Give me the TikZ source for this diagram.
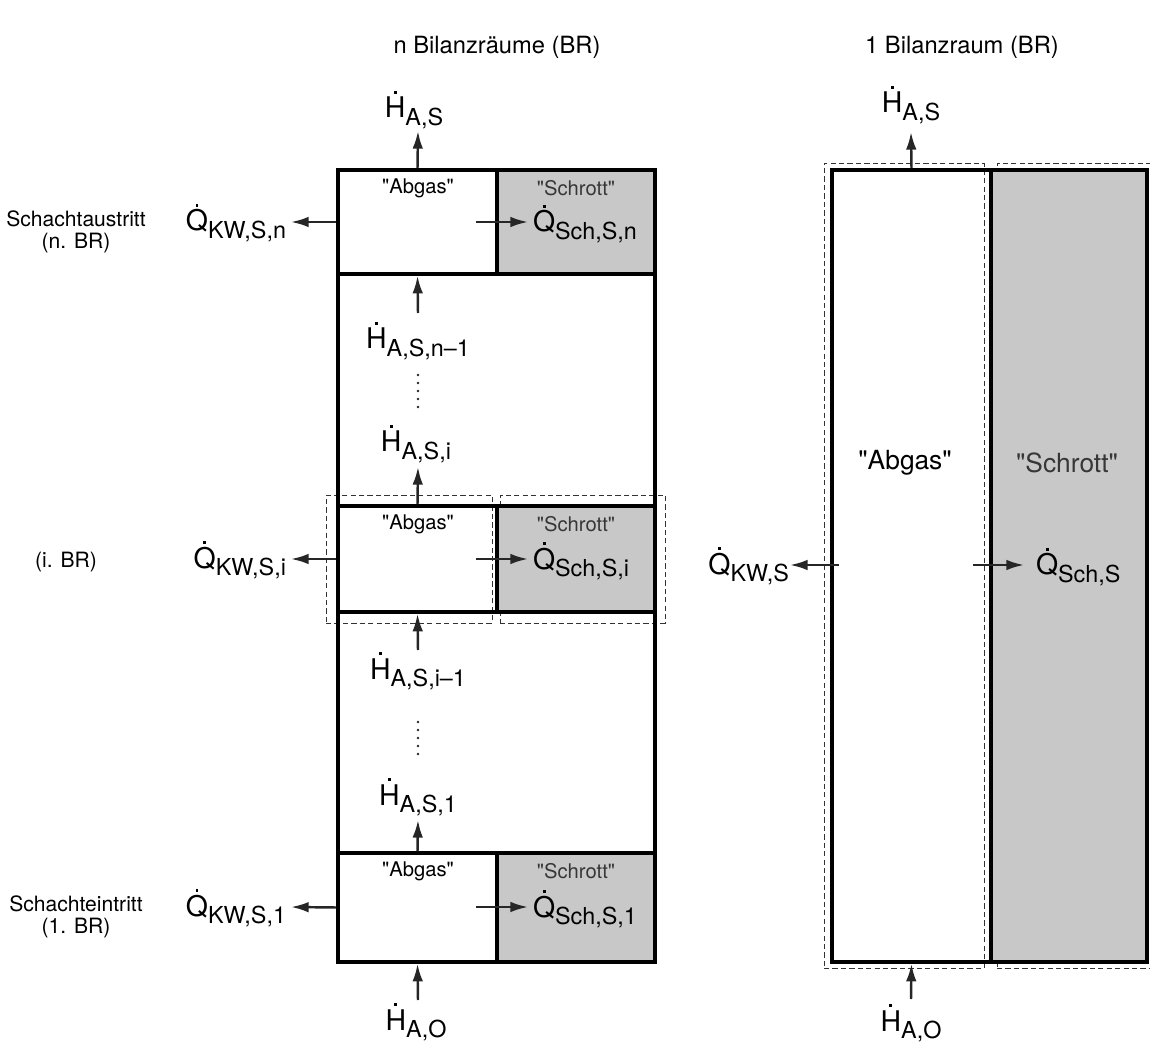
\documentclass[tikz,border=0pt]{standalone}
\usepackage{fontspec}
\setmainfont{TeX Gyre Heros}
\usetikzlibrary{arrows.meta,fit}
\definecolor{schgray}{RGB}{200,200,200}
\definecolor{schtext}{RGB}{55,55,55}
\newcommand\dotacc[1]{\ooalign{#1\cr\hidewidth\smash{\raisebox{0.86em}{\rule{1.7pt}{1.7pt}}}\hidewidth\cr}}
\newcommand\flowlab[2]{{\fontsize{16.2}{18}\selectfont\dotacc{#1}}\raisebox{-4.5pt}{\fontsize{13.3}{15}\selectfont #2}}
\newcommand\qq[1]{\textquotedbl#1\textquotedbl}
\begin{document}
\begin{tikzpicture}[x=0.02cm,y=-0.02cm,
  thk/.style={line width=2pt},
  flowarrow/.style={line width=1.4pt, draw=black!85, -{Latex[length=10pt,width=6pt]}},
  dbox/.style={draw=black!80, line width=0.5pt, dash pattern=on 3pt off 1.8pt},
  txt/.style={inner sep=0pt, outer sep=0pt},
  titletxt/.style={txt, font=\fontsize{13.5}{16}\selectfont},
  sidetxt/.style={txt, font=\fontsize{12}{14}\selectfont},
  boxtxt/.style={txt, font=\fontsize{11.5}{13}\selectfont},
  bigtxt/.style={txt, font=\fontsize{15}{17}\selectfont},
  abgbox/.style={fit={#1}, inner sep=0pt, draw, thk},
  schbox/.style={fit={#1}, inner sep=0pt, fill=schgray, draw, thk},
  hdots/.style={fill=black!85, radius=1.3}
]
\useasboundingbox (0,0) rectangle (1150,1047);

% titles
\node[titletxt, anchor=base] (t1) at (497,54) {n Bilanzräume (BR)};
\node[titletxt, anchor=base] (t2) at (962,54) {1 Bilanzraum (BR)};

% ---------- left column ----------
% dashed boxes of i-th BR
\node[dbox, fit={(326,495)(492,623)}, inner sep=0pt] (dai) {};
\node[dbox, fit={(500,495)(665,623)}, inner sep=0pt] (dsi) {};

% BR n
\node[schbox={(497,170)(655,274)}] (schn) {};
\node[abgbox={(338,170)(497,274)}] (abgn) {};
% BR i
\node[schbox={(497,506)(655,612)}] (schi) {};
\node[abgbox={(338,506)(497,612)}] (abgi) {};
% BR 1
\node[schbox={(497,853)(655,962)}] (sch1) {};
\node[abgbox={(338,853)(497,962)}] (abg1) {};
% outer
\node[fit={(338,170)(655,962)}, inner sep=0pt, draw, thk] (outer) {};

% box texts
\foreach \t/\k in {170/n,506/i,853/1}{
  \node[boxtxt, anchor=center] (ta\k) at (418,\t+18) {\qq{Abgas}};
  \node[boxtxt, anchor=center, text=schtext] (ts\k) at (576,\t+18) {\qq{Schrott}};
}

% side texts
\node[sidetxt, anchor=base] (s1a) at (76,227) {Schachtaustritt};
\node[sidetxt, anchor=base] (s1b) at (76,249) {(n. BR)};
\node[sidetxt, anchor=base] (s2) at (66,567) {(i. BR)};
\node[sidetxt, anchor=base] (s3a) at (76,911) {Schachteintritt};
\node[sidetxt, anchor=base] (s3b) at (76,933) {(1. BR)};

% H labels
\node[txt, anchor=base] (hAS)   at (414,118)  {\flowlab{H}{A,S}};
\node[txt, anchor=base] (hASn1) at (418,349)  {\flowlab{H}{A,S,n–1}};
\node[txt, anchor=base] (hASi)  at (416,452)  {\flowlab{H}{A,S,i}};
\node[txt, anchor=base] (hASi1) at (418,679)  {\flowlab{H}{A,S,i–1}};
\node[txt, anchor=base] (hAS1)  at (418,805)  {\flowlab{H}{A,S,1}};
\node[txt, anchor=base] (hAO)   at (416,1030) {\flowlab{H}{A,O}};

% vertical dots
\foreach \y in {375,383,391,399,407,722,730,738,746,754}
  \fill[hdots] (418,\y) circle;

% H arrows
\coordinate (hASt) at (418,131);
\coordinate (hn1s) at (418,313);
\coordinate (hit)  at (418,467);
\coordinate (hi1s) at (418,650);
\coordinate (h1t)  at (418,820);
\coordinate (hAOs) at (418,1000);
\draw[flowarrow] (abgn.north) -- (hASt);
\draw[flowarrow] (hn1s) -- (abgn.south);
\draw[flowarrow] (abgi.north) -- (hit);
\draw[flowarrow] (hi1s) -- (abgi.south);
\draw[flowarrow] (abg1.north) -- (h1t);
\draw[flowarrow] (hAOs) -- (abg1.south);

% Q labels and arrows
\foreach \k/\y/\s in {n/222/n,i/559/i,1/907/1}{
  \coordinate (qkw\k) at (291,\y);
  \coordinate (qs\k) at (476,\y);
  \coordinate (qe\k) at (528,\y);
  \draw[flowarrow] (abg\k.west) -- (qkw\k);
  \draw[flowarrow] (qs\k) -- (qe\k);
  \node[txt, anchor=base east] (lkw\k) at (286,\y+9) {\flowlab{Q}{KW,S,\s}};
  \node[txt, anchor=base west] (lsch\k) at (533,\y+10) {\flowlab{Q}{Sch,S,\s}};
}

% ---------- right column ----------
\node[dbox, fit={(824,163)(984,968)}, inner sep=0pt] (dar) {};
\node[dbox, fit={(997,163)(1165,968)}, inner sep=0pt] (dsr) {};
\node[schbox={(991,170)(1147,962)}] (schR) {};
\node[abgbox={(832,170)(991,962)}] (abgR) {};

\node[bigtxt, anchor=center] (taR) at (905,463) {\qq{Abgas}};
\node[bigtxt, anchor=center, text=schtext] (tsR) at (1067,463) {\qq{Schrott}};

\node[txt, anchor=base] (hASR) at (911,113)  {\flowlab{H}{A,S}};
\node[txt, anchor=base] (hAOR) at (911,1031) {\flowlab{H}{A,O}};
\coordinate (hASRt) at (911,132);
\coordinate (hAORs) at (911,999);
\draw[flowarrow] (abgR.north) -- (hASRt);
\draw[flowarrow] (hAORs) -- (abgR.south);

\coordinate (qkwRs) at (839,565);
\coordinate (qkwRt) at (790,565);
\coordinate (qschRs) at (973,565);
\coordinate (qschRt) at (1024,565);
\draw[flowarrow] (qkwRs) -- (qkwRt);
\draw[flowarrow] (qschRs) -- (qschRt);
\node[txt, anchor=base east] (lkwR) at (789,574) {\flowlab{Q}{KW,S}};
\node[txt, anchor=base west] (lschR) at (1036,575) {\flowlab{Q}{Sch,S}};
\end{tikzpicture}
\end{document}
